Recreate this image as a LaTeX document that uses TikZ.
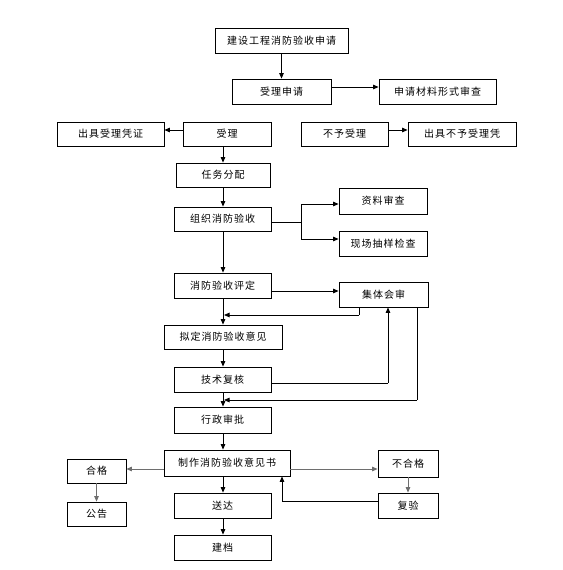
\documentclass[tikz,border=0pt]{standalone}
\usepackage{fontspec}
\newfontfamily\cjk[LetterSpace=10]{Noto Sans CJK SC}
\usetikzlibrary{arrows.meta}
\definecolor{lgray}{RGB}{110,110,110}
\tikzset{
  box/.style={draw=black, line width=0.8pt, fill=white, inner sep=0pt,
    font=\cjk\fontsize{10}{12}\selectfont, text=black},
  conn/.style={line width=0.8pt, draw=black},
  arr/.style={conn, -{Triangle[length=5.5pt,width=4.5pt]}},
  garr/.style={arr, draw=lgray, color=lgray}
}
\begin{document}
\begin{tikzpicture}[x=1pt,y=-1pt]
\useasboundingbox[fill=white] (0,0) rectangle (562,570);

\node[box, minimum width=133pt, minimum height=25pt] (a) at (281.5,40.5) {建设工程消防验收申请};
\node[box, minimum width=99pt,  minimum height=25pt] (b) at (281.5,91.5) {受理申请};
\node[box, minimum width=117pt, minimum height=25pt] (c) at (437.5,91.5) {申请材料形式审查};
\node[box, minimum width=107pt, minimum height=24pt] (d) at (110.5,134) {出具受理凭证};
\node[box, minimum width=88pt,  minimum height=24pt] (e) at (227,134) {受理};
\node[box, minimum width=87pt,  minimum height=24pt] (f) at (344.5,134) {不予受理};
\node[box, minimum width=108pt, minimum height=24pt] (g) at (462,134) {出具不予受理凭};
\node[box, minimum width=94pt,  minimum height=24pt] (h) at (223,175) {任务分配};
\node[box, minimum width=97pt,  minimum height=24pt] (i) at (222.5,219) {组织消防验收};
\node[box, minimum width=88pt,  minimum height=26pt] (j) at (383,201) {资料审查};
\node[box, minimum width=88pt,  minimum height=25pt] (k) at (383,243.5) {现场抽样检查};
\node[box, minimum width=97pt,  minimum height=25pt] (l) at (222.5,285.5) {消防验收评定};
\node[box, minimum width=89pt,  minimum height=25pt] (m) at (383.5,294.5) {集体会审};
\node[box, minimum width=118pt, minimum height=24pt] (n) at (223,337) {拟定消防验收意见};
\node[box, minimum width=97pt,  minimum height=25pt] (o) at (222.5,379.5) {技术复核};
\node[box, minimum width=97pt,  minimum height=26pt] (p) at (222.5,420) {行政审批};
\node[box, minimum width=126pt, minimum height=26pt] (q) at (227,463) {制作消防验收意见书};
\node[box, minimum width=59pt,  minimum height=24pt] (r) at (96.5,471) {合格};
\node[box, minimum width=59pt,  minimum height=24pt] (s) at (96.5,514) {公告};
\node[box, minimum width=97pt,  minimum height=25pt] (t) at (222.5,505.5) {送达};
\node[box, minimum width=97pt,  minimum height=25pt] (u) at (222.5,547.5) {建档};
\node[box, minimum width=60pt,  minimum height=27pt] (v) at (408,463.5) {不合格};
\node[box, minimum width=60pt,  minimum height=25pt] (w) at (408,505.5) {复验};

% helper coordinates
\coordinate (br) at (301,222);
\coordinate (y291) at (0,291);
\coordinate (m1) at (359,315);
\coordinate (cA) at (224,315);
\coordinate (o1) at (388,383);
\coordinate (m2) at (417,400);
\coordinate (cB) at (224,400);
\coordinate (y469) at (0,469);
\coordinate (w1) at (282,501);

% top part
\draw[arr] (a.south) -- (b.north);
\draw[arr] ([yshift=4.5pt]b.east) -- ([yshift=4.5pt]c.west);
\draw[arr] ([yshift=4pt]e.west) -- ([yshift=4pt]d.east);
\draw[arr] ([yshift=4pt]f.east) -- ([yshift=4pt]g.west);
\draw[arr] (e.south -| h.north) -- (h.north);
\draw[arr] (h.south) -- (h.south |- i.north);

% branch to checks
\draw[conn] (i.east |- br) -- (br);
\draw[arr] (br) |- ([yshift=-3pt]j.west);
\draw[arr] (br) |- ([yshift=4.5pt]k.west);

% evaluation loop
\draw[arr] (i.south -| h.south) -- (h.south |- l.north);
\draw[arr] (l.east |- y291) -- (m.west |- y291);
\draw[arr] (l.south -| h.south) -- (h.south |- n.north);
\draw[conn] (m.south -| m1) -- (m1);
\draw[arr] (m1) -- (cA);
\draw[arr] (n.south -| h.south) -- (h.south |- o.north);
\draw[conn] (o.east |- o1) -- (o1);
\draw[arr] (o1) -- (o1 |- m.south);
\draw[arr] (o.south -| h.south) -- (h.south |- p.north);
\draw[conn] (m.south -| m2) -- (m2);
\draw[arr] (m2) -- (cB);

% bottom part
\draw[arr] (p.south -| h.south) -- (h.south |- q.north);
\draw[garr] (q.west |- y469) -- (r.east |- y469);
\draw[garr] (q.east |- y469) -- (v.west |- y469);
\draw[garr] (r.south) -- (s.north);
\draw[arr] (q.south -| h.south) -- (h.south |- t.north);
\draw[arr] (t.south -| h.south) -- (h.south |- u.north);
\draw[garr] (v.south) -- (w.north);
\draw[conn] (w.west |- w1) -- (w1);
\draw[arr] (w1) -- (w1 |- q.south);
\end{tikzpicture}
\end{document}
